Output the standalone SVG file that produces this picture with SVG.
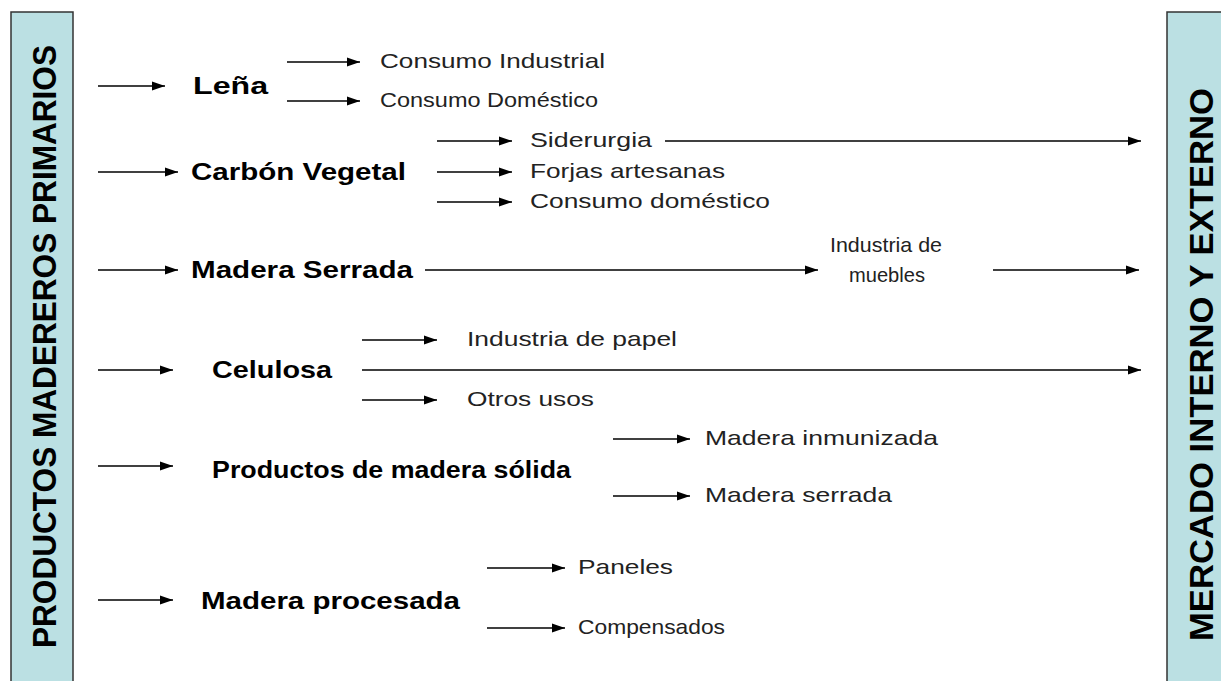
<svg xmlns="http://www.w3.org/2000/svg" width="1221" height="681" viewBox="0 0 1221 681">
<defs>
<marker id="ah" markerUnits="userSpaceOnUse" markerWidth="13" markerHeight="10" refX="13" refY="5" orient="auto">
<path d="M0,0.5 L13,5 L0,9.5 Z" fill="#000"/>
</marker>
<style>
.bar{fill:#BBE0E3;stroke:#333;stroke-width:1.5}
.bt{font-family:"Liberation Sans",Arial,sans-serif;font-weight:bold;font-size:33px;fill:#000}
.m{font-family:"Liberation Sans",Arial,sans-serif;font-weight:bold;font-size:24px;fill:#000}
.s{font-family:"Liberation Sans",Arial,sans-serif;font-size:21px;fill:#222}
.c line{stroke:#000;stroke-width:1.4;marker-end:url(#ah)}
.c line.n{marker-end:none}
</style>
</defs>
<rect width="1221" height="681" fill="#fff"/>
<g id="left-bar">
<rect class="bar" x="11" y="12" width="62" height="680"/>
<text class="bt" transform="translate(56,648) rotate(-90)" textLength="603" lengthAdjust="spacingAndGlyphs">PRODUCTOS MADEREROS PRIMARIOS</text>
</g>
<g id="right-bar">
<rect class="bar" x="1167" y="12" width="60" height="680"/>
<text class="bt" transform="translate(1213,641) rotate(-90)" textLength="553" lengthAdjust="spacingAndGlyphs">MERCADO INTERNO Y EXTERNO</text>
</g>
<g class="c" id="connectors">
<line x1="98" y1="86" x2="165" y2="86"/>
<line x1="287" y1="62" x2="360" y2="62"/>
<line x1="287" y1="101" x2="360" y2="101"/>
<line x1="98" y1="172" x2="178" y2="172"/>
<line x1="437" y1="141" x2="512" y2="141"/>
<line x1="437" y1="172" x2="512" y2="172"/>
<line x1="437" y1="202" x2="512" y2="202"/>
<line x1="665" y1="141" x2="1141" y2="141"/>
<line x1="98" y1="270" x2="178" y2="270"/>
<line x1="425" y1="270" x2="818" y2="270"/>
<line x1="993" y1="270" x2="1139" y2="270"/>
<line x1="98" y1="370" x2="173" y2="370"/>
<line x1="362" y1="340" x2="437" y2="340"/>
<line x1="362" y1="400" x2="437" y2="400"/>
<line x1="362" y1="370" x2="1141" y2="370"/>
<line x1="98" y1="466" x2="173" y2="466"/>
<line x1="613" y1="439" x2="690" y2="439"/>
<line x1="613" y1="496" x2="690" y2="496"/>
<line x1="98" y1="600" x2="173" y2="600"/>
<line x1="487" y1="568" x2="565" y2="568"/>
<line x1="487" y1="628" x2="565" y2="628"/>
</g>
<g id="lena">
<text class="m" x="193" y="94" textLength="75" lengthAdjust="spacingAndGlyphs">Leña</text>
</g>
<g id="consumo-industrial"><text class="s" x="380" y="68" textLength="225" lengthAdjust="spacingAndGlyphs">Consumo Industrial</text></g>
<g id="consumo-domestico-1"><text class="s" x="380" y="107" textLength="218" lengthAdjust="spacingAndGlyphs">Consumo Doméstico</text></g>
<g id="carbon"><text class="m" x="191" y="180" textLength="215" lengthAdjust="spacingAndGlyphs">Carbón Vegetal</text></g>
<g id="siderurgia"><text class="s" x="530" y="147" textLength="122" lengthAdjust="spacingAndGlyphs">Siderurgia</text></g>
<g id="forjas"><text class="s" x="530" y="178" textLength="195" lengthAdjust="spacingAndGlyphs">Forjas artesanas</text></g>
<g id="consumo-domestico-2"><text class="s" x="530" y="208" textLength="240" lengthAdjust="spacingAndGlyphs">Consumo doméstico</text></g>
<g id="madera-serrada"><text class="m" x="191" y="278" textLength="222" lengthAdjust="spacingAndGlyphs">Madera Serrada</text></g>
<g id="industria-muebles">
<text class="s" x="830" y="252" textLength="112" lengthAdjust="spacingAndGlyphs">Industria de</text>
<text class="s" x="849" y="282" textLength="76" lengthAdjust="spacingAndGlyphs">muebles</text>
</g>
<g id="celulosa"><text class="m" x="212" y="378" textLength="120" lengthAdjust="spacingAndGlyphs">Celulosa</text></g>
<g id="industria-papel"><text class="s" x="467" y="346" textLength="210" lengthAdjust="spacingAndGlyphs">Industria de papel</text></g>
<g id="otros-usos"><text class="s" x="467" y="406" textLength="127" lengthAdjust="spacingAndGlyphs">Otros usos</text></g>
<g id="solida"><text class="m" x="212" y="478" textLength="359" lengthAdjust="spacingAndGlyphs">Productos de madera sólida</text></g>
<g id="inmunizada"><text class="s" x="705" y="445" textLength="233" lengthAdjust="spacingAndGlyphs">Madera inmunizada</text></g>
<g id="madera-serrada-2"><text class="s" x="705" y="502" textLength="187" lengthAdjust="spacingAndGlyphs">Madera serrada</text></g>
<g id="procesada"><text class="m" x="201" y="609" textLength="259" lengthAdjust="spacingAndGlyphs">Madera procesada</text></g>
<g id="paneles"><text class="s" x="578" y="574" textLength="95" lengthAdjust="spacingAndGlyphs">Paneles</text></g>
<g id="compensados"><text class="s" x="578" y="634" textLength="147" lengthAdjust="spacingAndGlyphs">Compensados</text></g>
</svg>
